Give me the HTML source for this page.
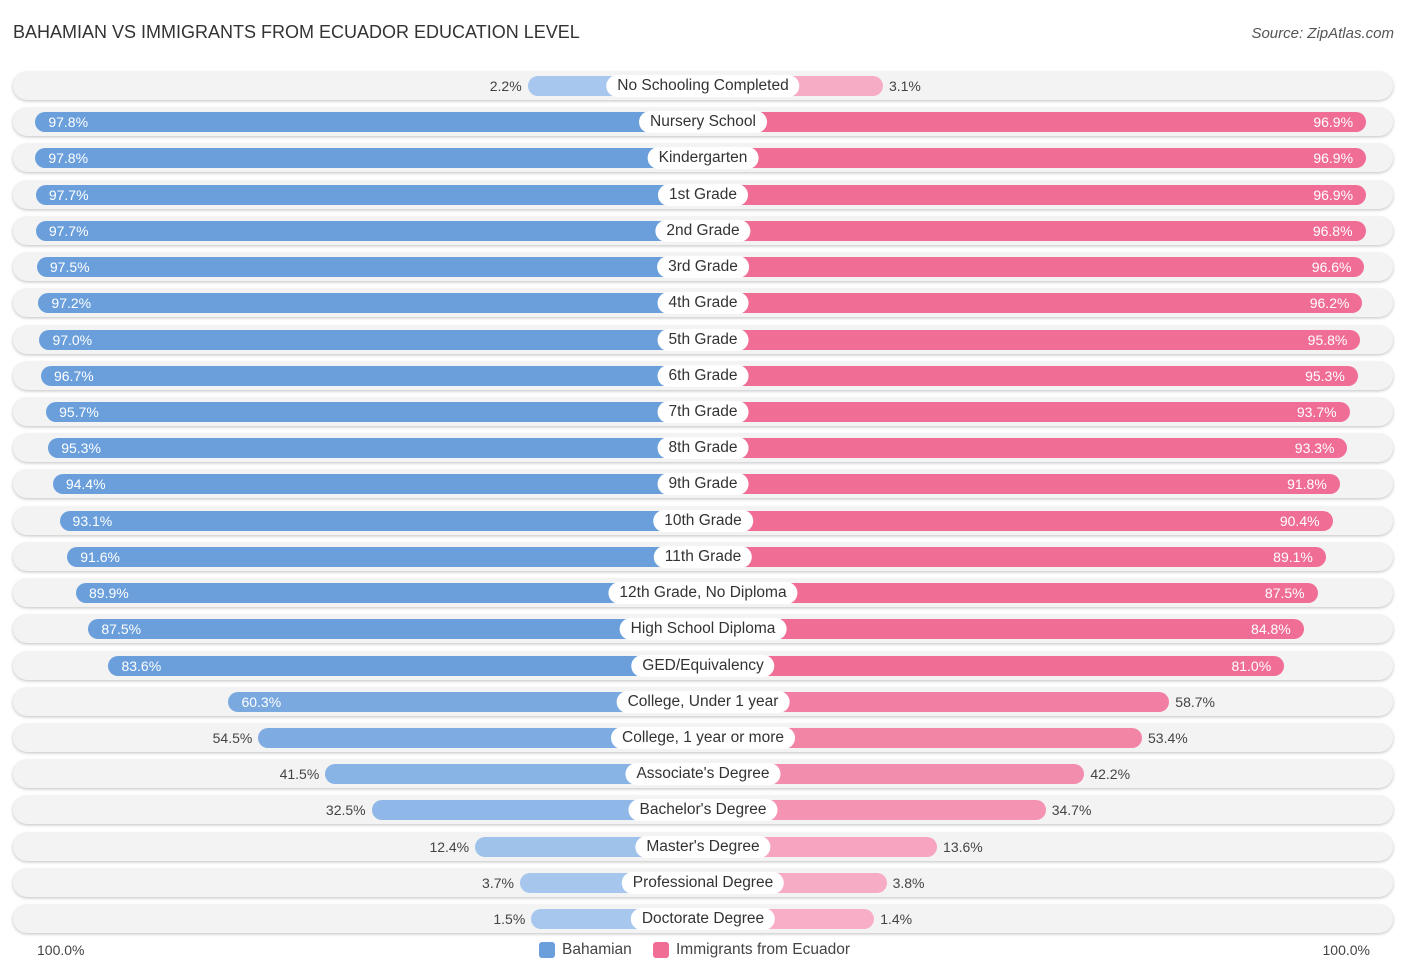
<!DOCTYPE html>
<html><head><meta charset="utf-8"><style>
body{margin:0;width:1406px;height:975px;background:#fff;font-family:"Liberation Sans",sans-serif;position:relative;overflow:hidden}
.t{position:absolute;left:13px;top:22px;font-size:18px;color:#333}
.s{position:absolute;right:12px;top:25px;font-size:15px;color:#555;font-style:italic}
.row{position:absolute;left:13px;width:1380px;height:28px;border-radius:14px;background:#f3f3f3;box-shadow:0 1px 3px rgba(0,0,0,.25)}
.bar{position:absolute;height:20px;border-radius:10px}
.lab{position:absolute;height:22px;line-height:22px;padding:0 11px;background:#fff;border-radius:11px;font-size:15.5px;color:#333;transform:translateX(-50%);white-space:nowrap}
.v{position:absolute;font-size:14px;line-height:20px}
.ax{position:absolute;top:942px;font-size:14px;color:#444}
.leg{position:absolute;top:941px;font-size:15.5px;color:#444;display:flex;align-items:center}
.sw{width:16px;height:16px;border-radius:3px;margin-right:7px}
</style></head><body>
<div class="t">BAHAMIAN VS IMMIGRANTS FROM ECUADOR EDUCATION LEVEL</div>
<div class="s">Source: ZipAtlas.com</div>
<div id="chart"></div>
<div class="ax" style="left:37px">100.0%</div>
<div class="ax" style="right:36px">100.0%</div>
<div class="leg" style="left:539px"><div class="sw" style="background:#6a9fdc"></div>Bahamian</div>
<div class="leg" style="left:653px"><div class="sw" style="background:#f06e96"></div>Immigrants from Ecuador</div>
<script>
const categories=["No Schooling Completed","Nursery School","Kindergarten","1st Grade","2nd Grade","3rd Grade","4th Grade","5th Grade","6th Grade","7th Grade","8th Grade","9th Grade","10th Grade","11th Grade","12th Grade, No Diploma","High School Diploma","GED/Equivalency","College, Under 1 year","College, 1 year or more","Associate's Degree","Bachelor's Degree","Master's Degree","Professional Degree","Doctorate Degree"];
const bahamian=[2.2,97.8,97.8,97.7,97.7,97.5,97.2,97.0,96.7,95.7,95.3,94.4,93.1,91.6,89.9,87.5,83.6,60.3,54.5,41.5,32.5,12.4,3.7,1.5];
const ecuador=[3.1,96.9,96.9,96.9,96.8,96.6,96.2,95.8,95.3,93.7,93.3,91.8,90.4,89.1,87.5,84.8,81.0,58.7,53.4,42.2,34.7,13.6,3.8,1.4];
const cx=703,base=164,k=5.15,y0=86,dy=36.22;
const w=v=>base+k*v;
function mix(a,b,t){return 'rgb('+a.map((x,i)=>Math.round(x+(b[i]-x)*t)).join(',')+')';}
const c=document.getElementById('chart');
categories.forEach((cat,i)=>{
 const y=y0+i*dy;
 const r=document.createElement('div');r.className='row';r.style.top=(y-14)+'px';
 
 
 c.appendChild(r);
 [[bahamian[i],-1,[169,200,238],[106,159,220]],[ecuador[i],1,[247,175,199],[240,110,150]]].forEach(([v,s,lc,dc])=>{
  const b=document.createElement('div');b.className='bar';
  const ww=w(v);b.style.top=(y-10)+'px';b.style.width=ww+'px';
  b.style.left=(s<0?cx-ww:cx)+'px';
  b.style.background=mix(lc,dc,Math.min(1,v/80));
  
  
  c.appendChild(b);
  const t=document.createElement('div');t.className='v';t.textContent=v.toFixed(1)+'%';
  t.style.top=(y-10)+'px';
  const inside=v>=60;
  t.style.color=inside?'#fff':'#444';
  if(s<0){ if(inside){t.style.left=(cx-ww+13)+'px';}else{t.style.right=(1406-(cx-ww)+6)+'px';} }
  else { if(inside){t.style.right=(1406-(cx+ww)+13)+'px';}else{t.style.left=(cx+ww+6)+'px';} }
  
  
  c.appendChild(t);
 });
 const l=document.createElement('div');l.className='lab';l.textContent=cat;
 l.style.left=cx+'px';l.style.top=(y-11)+'px';
 
 
 c.appendChild(l);
});
</script>
</body></html>
